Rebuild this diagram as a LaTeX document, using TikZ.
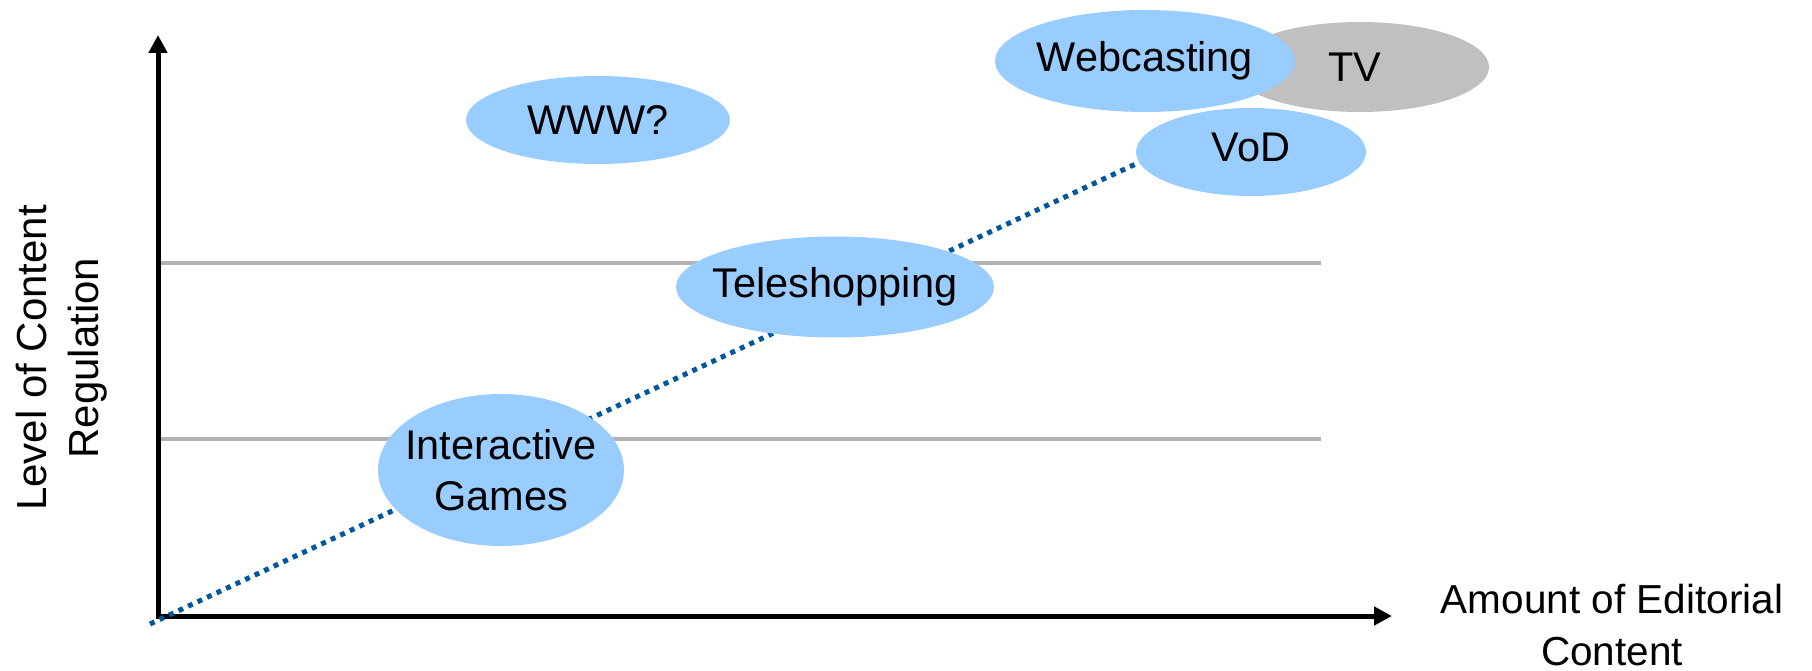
\documentclass[tikz,border=0pt]{standalone}
\usepackage{fontspec}
\setmainfont{Liberation Sans}
\usetikzlibrary{shapes.geometric,arrows.meta,backgrounds}
\definecolor{bubble}{HTML}{99CCFF}
\definecolor{tvgray}{HTML}{C0C0C0}
\definecolor{levelgray}{HTML}{B2B2B2}
\definecolor{dotblue}{HTML}{00579E}
\tikzset{
  bub/.style={ellipse, fill=bubble, inner xsep=-60pt, inner ysep=-10pt, align=center, font=\fontsize{41.5}{51}\selectfont},
  tvbub/.style={bub, fill=tvgray},
  axis/.style={line width=5pt, -{Triangle[length=18pt,width=18pt]}},
  level/.style={line width=4pt, levelgray},
  trend/.style={line width=5pt, dotblue, dash pattern=on 5pt off 5.5pt},
  axlabel/.style={align=center, font=\fontsize{40.5}{52}\selectfont, inner sep=0pt}
}
\begin{document}
\begin{tikzpicture}[x=1pt,y=-1pt]
\useasboundingbox (0,0) rectangle (1812,671);
% bubbles
\node[tvbub, minimum width=258pt, minimum height=90pt] (tv) at (1360,67) {\hspace*{-10pt}TV};
\node[bub, minimum width=300pt, minimum height=102pt] (web) at (1145,61) {Webcasting};
\node[bub, minimum width=230pt, minimum height=88pt] (vod) at (1251,152) {\raisebox{9pt}{VoD}};
\node[bub, minimum width=264pt, minimum height=88pt] (www) at (598,120) {WWW?};
\node[bub, minimum width=318pt, minimum height=101pt] (tele) at (835,287) {\raisebox{-4pt}{Teleshopping}};
\node[bub, minimum width=246pt, minimum height=152pt] (games) at (501,470) {Interactive\\Games};
% axis labels
\node[axlabel, font=\fontsize{42}{52}\selectfont, rotate=90] (ylab) at (62,358) {Level of Content\\Regulation};
\node[axlabel] (xlab) at (1612,625) {Amount of Editorial\\Content};
\begin{pgfonlayer}{background}
\coordinate (o) at (158,616);
\coordinate (ytip) at (158,35);
\coordinate (xtip) at (1392,616);
\coordinate (g1a) at (158,263);
\coordinate (g1b) at (1321,263);
\coordinate (g2a) at (158,439);
\coordinate (g2b) at (1321,439);
\coordinate (dstart) at (150,624);
\coordinate (dend) at (1140,162);
\draw[level] (g1a) -- (g1b);
\draw[level] (g2a) -- (g2b);
\draw[axis] ([yshift=2.5pt]o) -- (ytip);
\draw[axis] ([xshift=-2.5pt]o) -- (xtip);
\draw[trend] (dstart) -- (dend);
\end{pgfonlayer}
\end{tikzpicture}
\end{document}
